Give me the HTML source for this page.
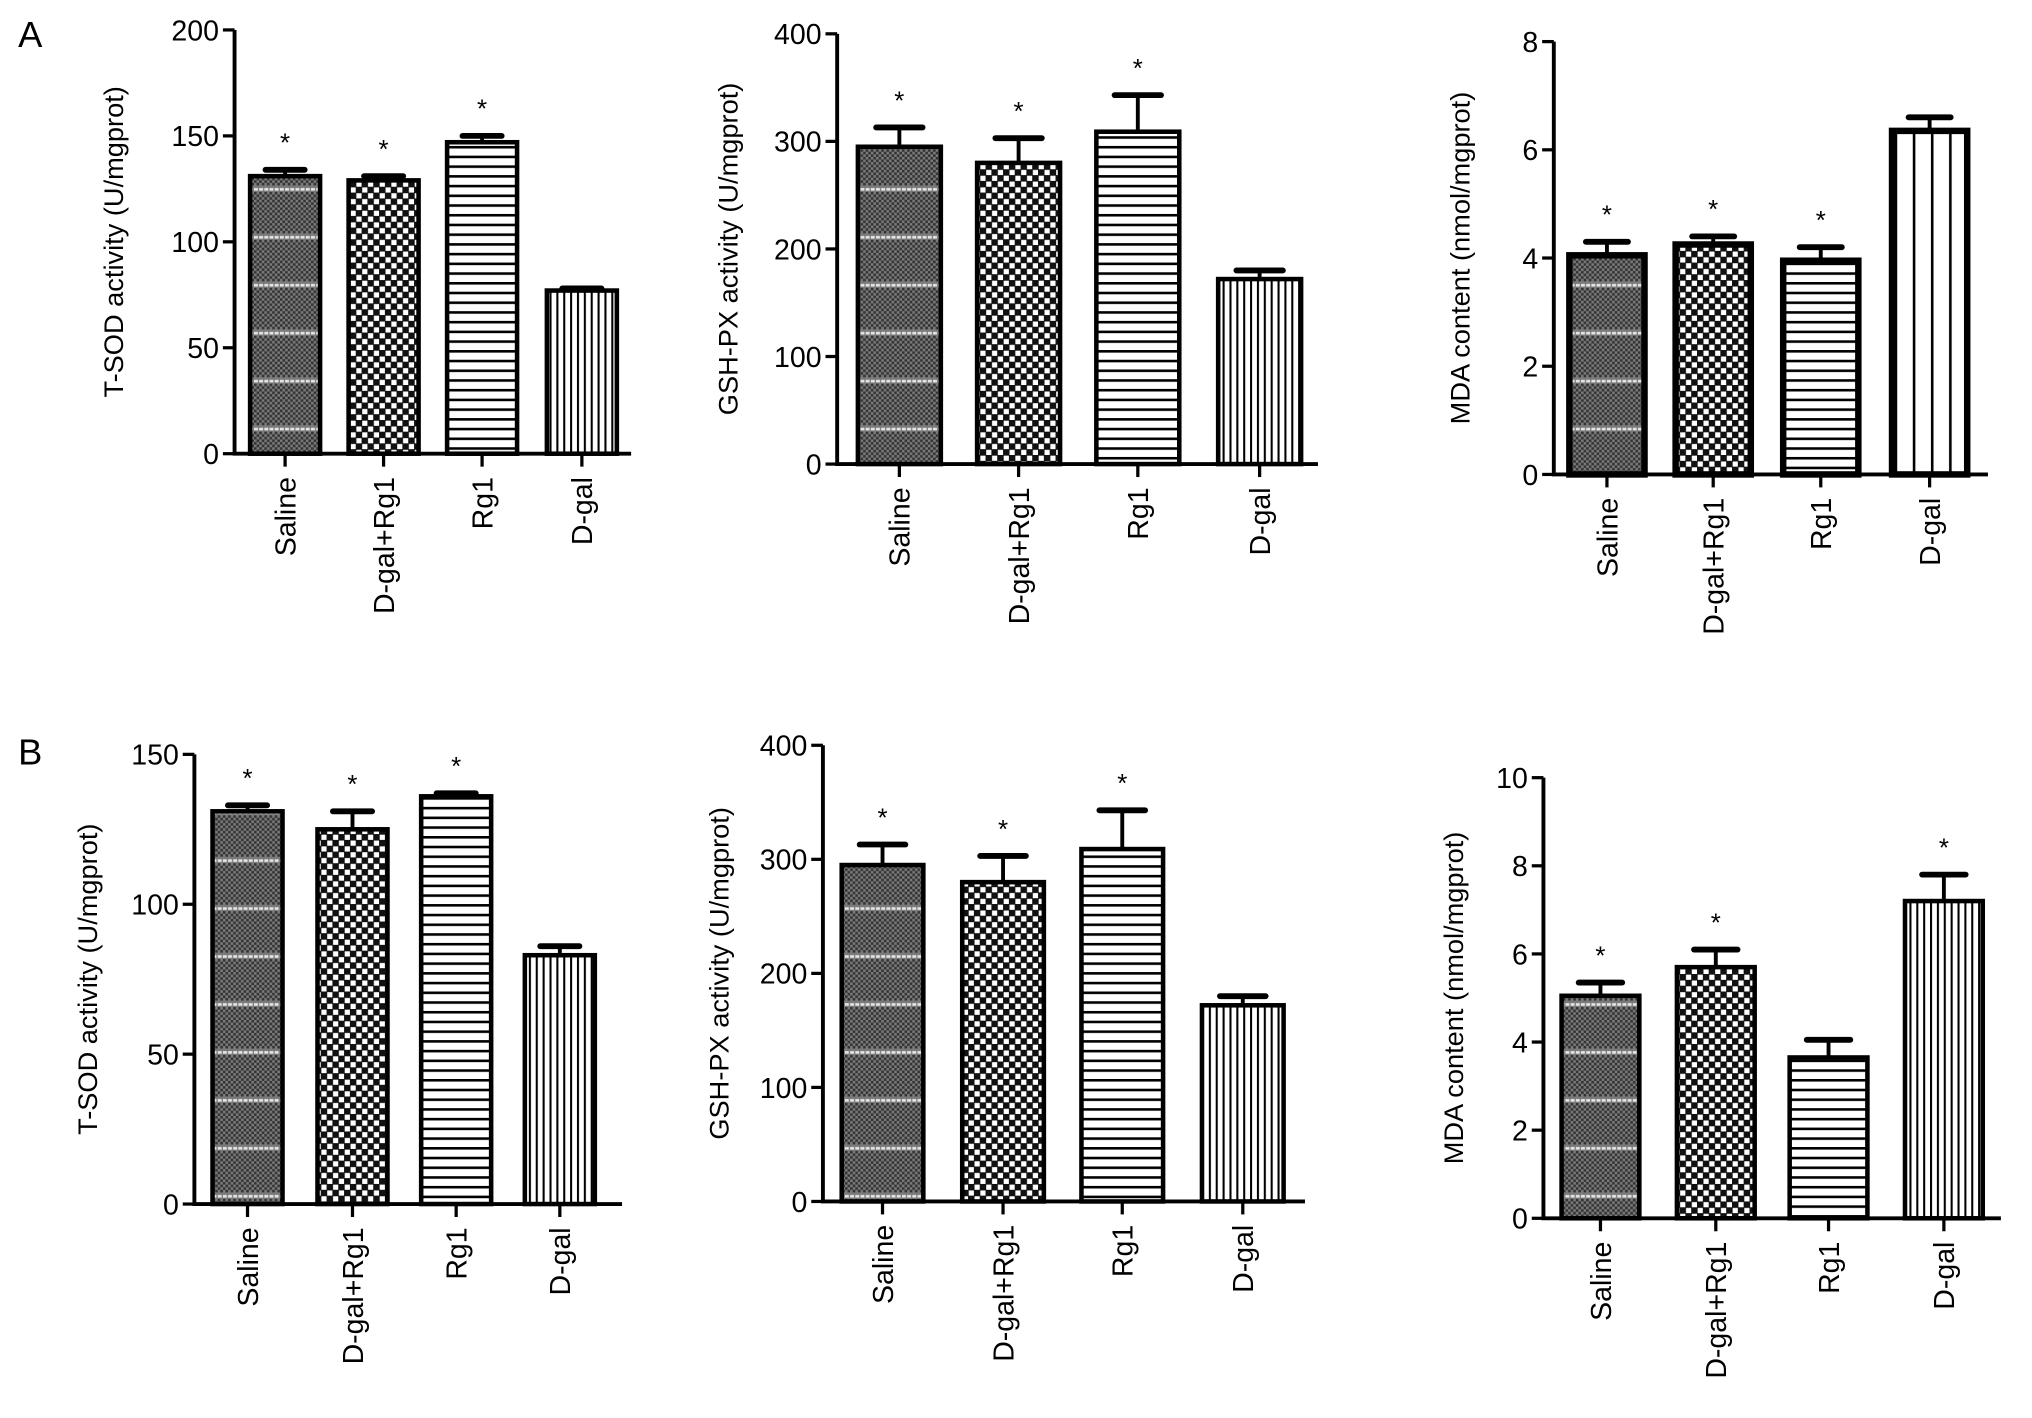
<!DOCTYPE html>
<html><head><meta charset="utf-8"><style>
html,body{margin:0;padding:0;background:#fff}
svg{display:block}
text{font-family:"Liberation Sans",Arial,sans-serif;fill:#000}
</style></head><body>
<svg id="fig" width="2032" height="1418" viewBox="0 0 1568 1094" xmlns="http://www.w3.org/2000/svg">
<defs>
<pattern id="p-saline" width="4" height="37" patternUnits="userSpaceOnUse">
<rect width="4" height="37" fill="#7a7a7a"/>
<rect x="0" y="0" width="2" height="2" fill="#333"/><rect x="2" y="2" width="2" height="2" fill="#333"/>
<rect x="0" y="4" width="2" height="2" fill="#333"/><rect x="2" y="6" width="2" height="2" fill="#333"/>
<rect x="0" y="8" width="2" height="2" fill="#333"/><rect x="2" y="10" width="2" height="2" fill="#333"/>
<rect x="0" y="12" width="2" height="2" fill="#333"/><rect x="2" y="14" width="2" height="2" fill="#333"/>
<rect x="0" y="16" width="2" height="2" fill="#333"/><rect x="2" y="18" width="2" height="2" fill="#333"/>
<rect x="0" y="20" width="2" height="2" fill="#333"/><rect x="2" y="22" width="2" height="2" fill="#333"/>
<rect x="0" y="24" width="2" height="2" fill="#333"/><rect x="2" y="26" width="2" height="2" fill="#333"/>
<rect x="0" y="28" width="2" height="2" fill="#333"/><rect x="2" y="30" width="2" height="2" fill="#333"/>
<rect x="0" y="34" width="3" height="2" fill="#e6e6e6"/>
</pattern>
<pattern id="p-check" width="9" height="9" patternUnits="userSpaceOnUse">
<rect width="9" height="9" fill="#111"/><rect x="0.5" y="0.5" width="4" height="4" fill="#fff"/><rect x="5" y="5" width="4" height="4" fill="#fff"/>
</pattern>
<pattern id="p-hlines" width="6" height="7.5" patternUnits="userSpaceOnUse">
<rect width="6" height="7.5" fill="#fff"/><rect y="0" width="6" height="2" fill="#000"/>
</pattern>
<pattern id="p-vlines" width="5.3" height="6" patternUnits="userSpaceOnUse">
<rect width="5.3" height="6" fill="#fff"/><rect x="0" width="1.6" height="6" fill="#000"/>
</pattern>
<pattern id="p-vwide" width="14" height="6" patternUnits="userSpaceOnUse">
<rect width="14" height="6" fill="#fff"/><rect x="6" width="2" height="6" fill="#000"/>
</pattern>
</defs>
<text x="14" y="36" font-size="28">A</text>
<text x="14" y="590" font-size="28">B</text>
</svg>
<script>
const categories = ["Saline","D-gal+Rg1","Rg1","D-gal"];
const a1Values = [131,129,147,77];
const a1Errors = [3,2,3,1];
const a2Values = [295,280,309,172];
const a2Errors = [18,23,34,8];
const a3Values = [4.05,4.25,3.95,6.35];
const a3Errors = [0.25,0.15,0.25,0.25];
const b1Values = [131,125,136,83];
const b1Errors = [2,6,1,3];
const b2Values = [295,280,309,172];
const b2Errors = [18,23,34,8];
const b3Values = [5.05,5.7,3.65,7.2];
const b3Errors = [0.3,0.4,0.4,0.6];
const a1Ticks = [0,50,100,150,200];
const a2Ticks = [0,100,200,300,400];
const a3Ticks = [0,2,4,6,8];
const b1Ticks = [0,50,100,150];
const b2Ticks = [0,100,200,300,400];
const b3Ticks = [0,2,4,6,8,10];
const aStars = [true,true,true,false];
const bStars = [true,true,true,false];
const b3Stars = [true,true,false,true];

const NS="http://www.w3.org/2000/svg";
const svg=document.getElementById('fig');
const fills=["url(#p-saline)","url(#p-check)","url(#p-hlines)","url(#p-vlines)"];
function el(t,a,p){const e=document.createElementNS(NS,t);for(const k in a)e.setAttribute(k,a[k]);(p||svg).appendChild(e);return e;}

function panel(id,cfg,vals,errs,ticks,stars){
  const g=el('g',{});
  
  
  const max=ticks[ticks.length-1];
  const y=v=>cfg.y0-(v/max)*(cfg.y0-cfg.yTop);
  ticks.forEach(t=>{
    el('line',{x1:cfg.ax-9,x2:cfg.ax,y1:y(t),y2:y(t),stroke:'#000','stroke-width':2.5},g);
    const tl=el('text',{x:cfg.ax-12,y:y(t)+8,'font-size':22,'text-anchor':'end'},g);
    tl.textContent=t;
    
    
  });
  const yl=el('text',{x:0,y:0,'font-size':21,'text-anchor':'middle',transform:`translate(${cfg.ylx},${(cfg.yTop+cfg.y0)/2}) rotate(-90)`},g);
  yl.textContent=cfg.label;
  
  
  vals.forEach((v,i)=>{
    const cx=cfg.ax+cfg.offs[i], w=cfg.bw;
    const top=y(v), et=y(v+errs[i]);
    el('line',{x1:cx,x2:cx,y1:top,y2:et,stroke:'#000','stroke-width':3},g);
    el('line',{x1:cx-w*0.28,x2:cx+w*0.28,y1:et,y2:et,stroke:'#000','stroke-width':4.5,'stroke-linecap':'round'},g);
    const f=(cfg.wideLast&&i===3)?"url(#p-vwide)":fills[i];
    const b=el('rect',{x:cx-w/2,y:top,width:w,height:cfg.y0-top,fill:f,stroke:'#000','stroke-width':cfg.sw||3.5},g);
    
    
    el('line',{x1:cx,x2:cx,y1:cfg.y0,y2:cfg.y0+10,stroke:'#000','stroke-width':2.5},g);
    if(stars[i]){
      const s=el('text',{x:cx,y:et-14,'font-size':20,'text-anchor':'middle'},g);
      s.textContent='*';
      
      
    }
    const xl=el('text',{x:0,y:0,'font-size':22,'text-anchor':'end',transform:`translate(${cx+8},${cfg.y0+18}) rotate(-90)`},g);
    xl.textContent=categories[i];
    
    
  });
  const ax=el('path',{d:`M${cfg.ax} ${cfg.yTop}V${cfg.y0}H${cfg.ax+cfg.len}`,fill:'none',stroke:'#000','stroke-width':3},g);
  
  
}
panel('a1',{ax:181,yTop:23,y0:350,len:306,bw:54,offs:[39,115,191,268],ylx:95,label:'T-SOD activity (U/mgprot)'},a1Values,a1Errors,a1Ticks,aStars);
panel('a2',{ax:646,yTop:26,y0:358,len:371,bw:64,offs:[48,140,232,326],ylx:569,label:'GSH-PX activity (U/mgprot)'},a2Values,a2Errors,a2Ticks,aStars);
panel('a3',{ax:1199,yTop:32,y0:366,len:335,bw:58,sw:5,offs:[41,123,206,290],ylx:1134,label:'MDA content (nmol/mgprot)',wideLast:true},a3Values,a3Errors,a3Ticks,aStars);
panel('b1',{ax:150,yTop:582,y0:929,len:330,bw:54,offs:[41,122,202,282],ylx:75,label:'T-SOD activity (U/mgprot)'},b1Values,b1Errors,b1Ticks,bStars);
panel('b2',{ax:635,yTop:575,y0:927,len:372,bw:63,offs:[46,139,231,324],ylx:562,label:'GSH-PX activity (U/mgprot)'},b2Values,b2Errors,b2Ticks,bStars);
panel('b3',{ax:1191,yTop:600,y0:940,len:353,bw:60,offs:[44,133,220,309],ylx:1129,label:'MDA content (nmol/mgprot)'},b3Values,b3Errors,b3Ticks,b3Stars);
</script>
</body></html>
